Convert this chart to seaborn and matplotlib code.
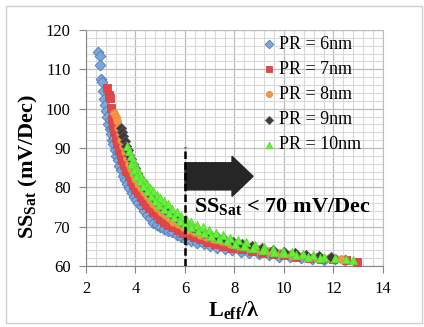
import numpy as np
import pandas as pd
import matplotlib
matplotlib.use("Agg")
import matplotlib.pyplot as plt
import seaborn as sns
from matplotlib.patches import FancyArrow, Rectangle
from matplotlib.ticker import MultipleLocator

# ---- Data (L_eff/lambda vs SS_sat) ----
x_pr6 = [2.50, 2.55, 2.58, 2.62, 2.66, 2.70, 2.74, 2.78, 2.82, 2.86,
         2.90, 2.95, 3.00, 3.05, 3.10, 3.16, 3.22, 3.28, 3.35, 3.42,
         3.50, 3.58, 3.66, 3.75, 3.84, 3.93, 4.02, 4.12, 4.22, 4.33,
         4.45, 4.57, 4.70, 4.85, 5.00, 5.15, 5.30, 5.48, 5.66, 5.85,
         6.05, 6.25, 6.50, 6.75, 7.00, 7.30, 7.60, 7.90, 8.25, 8.60,
         9.00, 9.40, 9.80, 10.25, 10.70, 11.15, 11.60, 12.05, 12.45,
         2.95, 3.05, 3.15, 3.30, 3.45, 3.60, 3.90, 4.10, 4.40, 4.80, 5.20, 5.70]
y_pr6 = [114.3, 113.5, 111.0, 107.5, 106.8, 104.5, 102.5, 101.0, 99.5, 98.0,
         96.0, 94.8, 93.5, 92.0, 91.0, 89.5, 88.0, 87.0, 85.5, 84.5,
         83.0, 81.8, 80.8, 79.8, 78.6, 77.6, 76.8, 76.0, 75.3, 74.0,
         73.0, 72.2, 71.0, 70.5, 69.8, 69.3, 69.0, 68.7, 68.0, 67.3,
         66.6, 66.3, 65.9, 65.5, 65.0, 64.6, 64.3, 64.0, 63.6, 63.3,
         63.0, 62.7, 62.4, 62.2, 62.0, 61.8, 61.6, 61.8, 61.6,
         97.0, 95.0, 92.5, 89.0, 86.5, 84.0, 80.5, 78.5, 75.8, 72.8, 70.8, 68.8]

x_pr7 = [2.85, 2.92, 2.97, 3.00, 3.05, 3.10, 3.15, 3.21, 3.27, 3.33,
         3.40, 3.47, 3.55, 3.63, 3.72, 3.81, 3.90, 4.00, 4.10, 4.21,
         4.32, 4.44, 4.56, 4.70, 4.85, 5.00, 5.16, 5.33, 5.50, 5.70,
         5.90, 6.10, 6.35, 6.60, 6.90, 7.20, 7.55, 7.90, 8.30, 8.70,
         9.10, 9.55, 10.00, 10.50, 11.00, 11.50, 12.00, 12.50, 12.94]
y_pr7 = [105.2, 103.5, 102.7, 100.2, 97.5, 95.8, 94.3, 92.6, 91.0, 89.6,
         88.2, 86.9, 85.6, 84.2, 82.9, 81.7, 80.6, 79.5, 78.5, 77.5,
         76.5, 75.6, 74.7, 73.8, 72.9, 72.0, 71.2, 70.5, 69.8, 69.1,
         68.5, 67.9, 67.3, 66.8, 66.2, 65.7, 65.2, 64.7, 64.2, 63.8,
         63.4, 63.0, 62.7, 62.4, 62.1, 61.9, 61.7, 61.5, 61.0]

x_pr8 = [3.15, 3.20, 3.25, 3.30, 3.36, 3.42, 3.49, 3.56, 3.64, 3.72,
         3.81, 3.90, 4.00, 4.10, 4.21, 4.33, 4.45, 4.58, 4.72, 4.87,
         5.02, 5.18, 5.35, 5.53, 5.72, 5.92, 6.13, 6.35, 6.60, 6.85,
         7.15, 7.45, 7.80, 8.15, 8.55, 8.95, 9.40, 9.85, 10.30, 10.80,
         11.30, 11.80, 12.30]
y_pr8 = [99.0, 97.8, 96.8, 95.2, 93.6, 92.0, 90.5, 89.0, 87.5, 86.0,
         84.6, 83.3, 82.0, 80.9, 79.8, 78.7, 77.7, 76.7, 75.7, 74.7,
         73.8, 72.9, 72.1, 71.3, 70.6, 69.9, 69.2, 68.6, 68.0, 67.4,
         66.8, 66.3, 65.7, 65.2, 64.7, 64.2, 63.8, 63.4, 63.0, 62.7,
         62.4, 62.1, 61.9]

x_pr9 = [3.40, 3.45, 3.50, 3.56, 3.62, 3.68, 3.75, 3.82, 3.90, 3.98,
         4.07, 4.16, 4.26, 4.37, 4.48, 4.60, 4.73, 4.87, 5.01, 5.16,
         5.32, 5.49, 5.67, 5.86, 6.06, 6.27, 6.50, 6.75, 7.00, 7.30,
         7.60, 7.95, 8.30, 8.70, 9.10, 9.55, 10.00, 10.45, 10.90, 11.40,
         11.90]
y_pr9 = [95.0, 94.0, 93.0, 91.8, 90.6, 89.5, 88.3, 87.1, 85.9, 84.8,
         83.7, 82.6, 81.5, 80.4, 79.4, 78.4, 77.4, 76.4, 75.5, 74.6,
         73.7, 72.9, 72.1, 71.3, 70.6, 69.9, 69.2, 68.5, 67.9, 67.3,
         66.7, 66.1, 65.5, 65.0, 64.5, 64.0, 63.6, 63.2, 62.9, 62.6,
         62.3]

x_pr10 = [3.65, 3.72, 3.80, 3.88, 3.96, 4.05, 4.14, 4.24, 4.35, 4.46,
          4.58, 4.71, 4.85, 5.00, 5.15, 5.31, 5.48, 5.66, 5.85, 6.05,
          6.26, 6.48, 6.72, 6.97, 7.24, 7.52, 7.82, 8.14, 8.47, 8.82,
          9.18, 9.55, 9.94, 10.34, 10.75, 11.17, 11.60, 12.05, 12.50, 12.80,
          3.80, 3.92, 4.04, 4.17, 4.31, 4.46, 4.62, 4.79, 4.97, 5.16,
          5.36, 5.57, 5.79, 6.02, 6.26, 6.51, 6.78, 7.06, 7.36, 7.68,
          8.02, 8.38, 8.76, 9.16, 9.58, 10.02, 10.48, 10.96, 11.46]
y_pr10 = [90.5, 89.2, 88.0, 86.9, 85.8, 84.7, 83.7, 82.7, 81.7, 80.8,
          79.9, 79.0, 78.1, 77.3, 76.5, 75.7, 74.6, 73.7, 72.8, 72.0,
          71.2, 70.5, 69.8, 69.1, 68.4, 67.8, 67.2, 66.6, 66.0, 65.4,
          64.9, 64.4, 63.9, 63.5, 63.1, 62.7, 62.3, 62.0, 61.8, 61.6,
          86.0, 84.5, 83.0, 81.6, 80.3, 79.0, 77.8, 76.6, 75.5, 74.4,
          73.4, 72.4, 71.5, 70.6, 69.8, 69.0, 68.3, 67.6, 66.9, 66.3,
          65.7, 65.1, 64.6, 64.1, 63.6, 63.2, 62.8, 62.4, 62.1]

labels = ["PR = 6nm", "PR = 7nm", "PR = 8nm", "PR = 9nm", "PR = 10nm"]
xs = [x_pr6, x_pr7, x_pr8, x_pr9, x_pr10]
ys = [y_pr6, y_pr7, y_pr8, y_pr9, y_pr10]

# ---- Styles ----
markers = ["D", "s", "o", "D", "^"]
faces = ["#7FA6D9", "#E8434A", "#F79646", "#3F3835", "#66F03A"]
edges = ["#4A7EBB", "#C94A4A", "#E8883C", "#5A5A5A", "#5BDB33"]
sizes = [30, 27, 30, 27, 36]

plt.rcParams["font.family"] = ["Liberation Serif", "DejaVu Serif"]
plt.rcParams["mathtext.fontset"] = "custom"
plt.rcParams["mathtext.rm"] = "Liberation Serif"
plt.rcParams["mathtext.bf"] = "Liberation Serif:bold"
plt.rcParams["mathtext.it"] = "Liberation Serif:italic"

fig = plt.figure(figsize=(4.24, 3.27), dpi=100)
ax = fig.add_axes([0.2028, 0.1865, 0.7005, 0.7217])

for x, y, lab, m, fc, ec, s in zip(xs, ys, labels, markers, faces, edges, sizes):
    df = pd.DataFrame({"L": x, "SS": y})
    sns.scatterplot(data=df, x="L", y="SS", marker=m, color=fc, edgecolor=ec,
                    linewidth=0.6, s=s, label=lab, ax=ax, zorder=3)

ax.set_xlim(2, 14)
ax.set_ylim(60, 120)
ax.xaxis.set_major_locator(MultipleLocator(2))
ax.xaxis.set_minor_locator(MultipleLocator(0.4))
ax.yaxis.set_major_locator(MultipleLocator(10))
ax.yaxis.set_minor_locator(MultipleLocator(2))
ax.grid(which="minor", color="#d9d9d9", lw=0.8, zorder=0)
ax.grid(which="major", color="#bdbdbd", lw=0.9, zorder=0)
ax.set_axisbelow(True)
ax.tick_params(which="major", direction="out", length=5, width=0.8,
               color="#868686", labelsize=12, pad=6)
ax.tick_params(which="minor", length=0)
for side in ["left", "bottom"]:
    ax.spines[side].set_color("#868686")
for side in ["top", "right"]:
    ax.spines[side].set_color("#bdbdbd")

# threshold line, arrow and note
ax.vlines(6, 60, 90.3, colors="black", linestyles=(0, (3, 1.3)), lw=1.8, zorder=5)
ax.add_patch(FancyArrow(6.0, 82.8, 2.75, 0, width=6.9, head_width=10.2,
                        head_length=0.85, length_includes_head=True,
                        color="#262626", zorder=4))
ax.text(6.38, 75.2, r"SS$_{\mathbf{Sat}}$ < 70 mV/Dec", fontsize=16,
        fontweight="bold", va="center", ha="left", zorder=6)

ax.set_xlabel(r"L$_{\mathbf{eff}}$/λ", fontsize=16, fontweight="bold")
ax.set_ylabel(r"SS$_{\mathbf{Sat}}$ (mV/Dec)", fontsize=16, fontweight="bold")
ax.xaxis.set_label_coords(0.498, -0.14)
ax.yaxis.set_label_coords(-0.155, 0.42)

leg = ax.legend(loc="upper left", bbox_to_anchor=(0.562, 1.013), frameon=False,
                fontsize=13, handlelength=0.8, handletextpad=0.15,
                labelspacing=0.45, borderpad=0, markerscale=0.8)

# light frame around the whole picture
fig.patches.append(Rectangle((6 / 424, 1 - 323 / 327), 416 / 424, 317 / 327,
                             transform=fig.transFigure, fill=False,
                             edgecolor="#cfcfcf", lw=1.0))

fig.savefig("out.png", dpi=100)
